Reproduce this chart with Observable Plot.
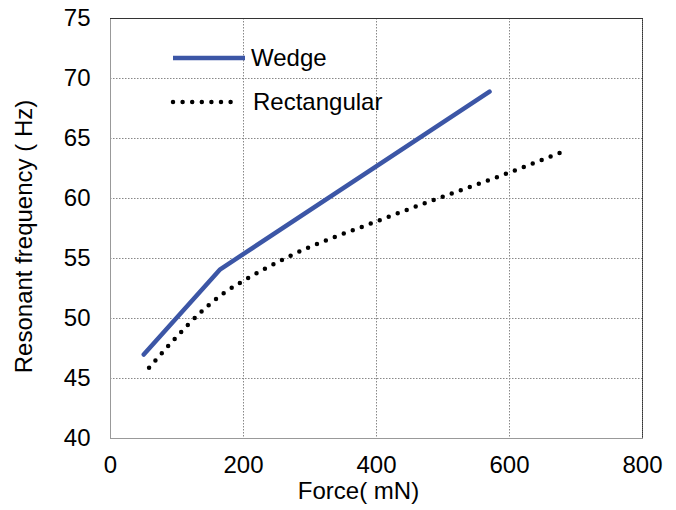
<!DOCTYPE html>
<html>
<head>
<meta charset="utf-8">
<script src="https://cdn.jsdelivr.net/npm/d3@7"></script>
<script src="https://cdn.jsdelivr.net/npm/@observablehq/plot@0.6"></script>
<style>
  html, body { margin: 0; padding: 0; background: #fff; }
  #chart svg { display: block; }
</style>
</head>
<body>
<div id="chart"></div>
<script>
// Data
const wedgeForce = [50, 165, 570];
const wedgeFreq  = [47, 54.1, 68.9];

const rectForce = [58, 170, 208, 262, 405, 492, 592, 680];
const rectFreq  = [45.9, 52.1, 53.4, 55.0, 58.2, 60.0, 62.0, 63.9];

const xTicks = [0, 200, 400, 600, 800];
const yTicks = [40, 45, 50, 55, 60, 65, 70, 75];
const xGrid = [200, 400, 600];
const yGrid = [45, 50, 55, 60, 65, 70];

const seriesNames = ["Wedge", "Rectangular"];
const seriesColors = ["#3c56a6", "#000000"];

const xLabel = "Force( mN)";
const yLabel = "Resonant frequency ( Hz)";

const wedge = wedgeForce.map((f, i) => ({force: f, freq: wedgeFreq[i]}));
const rect = rectForce.map((f, i) => ({force: f, freq: rectFreq[i]}));

const FONT = "'Liberation Sans', Arial, sans-serif";
const FS = 24;

// Legend drawn as a render-function mark, positioned from the frame dimensions
function legendMark(index, scales, values, dimensions) {
  const g = d3.create("svg:g");
  const x0 = dimensions.marginLeft + 63;
  const rows = [
    {y: dimensions.marginTop + 40, dash: null, len: 72, cap: "butt", tx: 141},
    {y: dimensions.marginTop + 84, dash: "0 9.6", len: 66, cap: "round", tx: 143}
  ];
  rows.forEach((r, i) => {
    g.append("line")
      .attr("x1", x0).attr("x2", x0 + r.len)
      .attr("y1", r.y).attr("y2", r.y)
      .attr("stroke", seriesColors[i])
      .attr("stroke-width", 4.5)
      .attr("stroke-linecap", r.cap)
      .attr("stroke-dasharray", r.dash);
    g.append("text")
      .attr("x", dimensions.marginLeft + r.tx)
      .attr("y", r.y)
      .attr("dy", "0.35em")
      .attr("text-anchor", "start")
      .attr("font-family", FONT)
      .attr("font-size", FS)
      .attr("fill", "#000")
      .text(seriesNames[i]);
  });
  return g.node();
}

const chart = Plot.plot({
  width: 676,
  height: 510,
  marginLeft: 110,
  marginRight: 34,
  marginTop: 18,
  marginBottom: 72,
  style: {fontFamily: FONT, fontSize: FS + "px", color: "#000", background: "#fff"},
  x: {domain: [0, 800], label: null},
  y: {domain: [40, 75], label: null},
  marks: [
    Plot.gridX(xGrid, {stroke: "#888", strokeOpacity: 1, strokeDasharray: "1.5,1.5"}),
    Plot.gridY(yGrid, {stroke: "#888", strokeOpacity: 1, strokeDasharray: "1.5,1.5"}),
    Plot.frame({stroke: "#999"}),
    Plot.ruleY([75], {stroke: "#333"}),
    Plot.ruleX([800], {stroke: "#333", strokeDasharray: "1.5,0.5"}),
    Plot.axisX({ticks: xTicks, tickSize: 0, tickPadding: 17, fontSize: FS}),
    Plot.axisY({ticks: yTicks, tickSize: 0, tickPadding: 20, fontSize: FS}),
    Plot.line(wedge, {x: "force", y: "freq", stroke: seriesColors[0], strokeWidth: 4.5, strokeLinejoin: "round", strokeLinecap: "round"}),
    Plot.line(rect, {x: "force", y: "freq", stroke: seriesColors[1], strokeWidth: 4.5, strokeDasharray: "0 9.6", strokeLinecap: "round", curve: "monotone-x"}),
    Plot.text([xLabel], {frameAnchor: "bottom", textAnchor: "middle", dy: 60, dx: -18, fontSize: FS, fill: "#000"}),
    Plot.text([yLabel], {frameAnchor: "left", textAnchor: "middle", dx: -86, dy: 8, rotate: -90, fontSize: FS, fill: "#000"}),
    legendMark
  ]
});

document.getElementById("chart").appendChild(chart);
</script>
</body>
</html>
